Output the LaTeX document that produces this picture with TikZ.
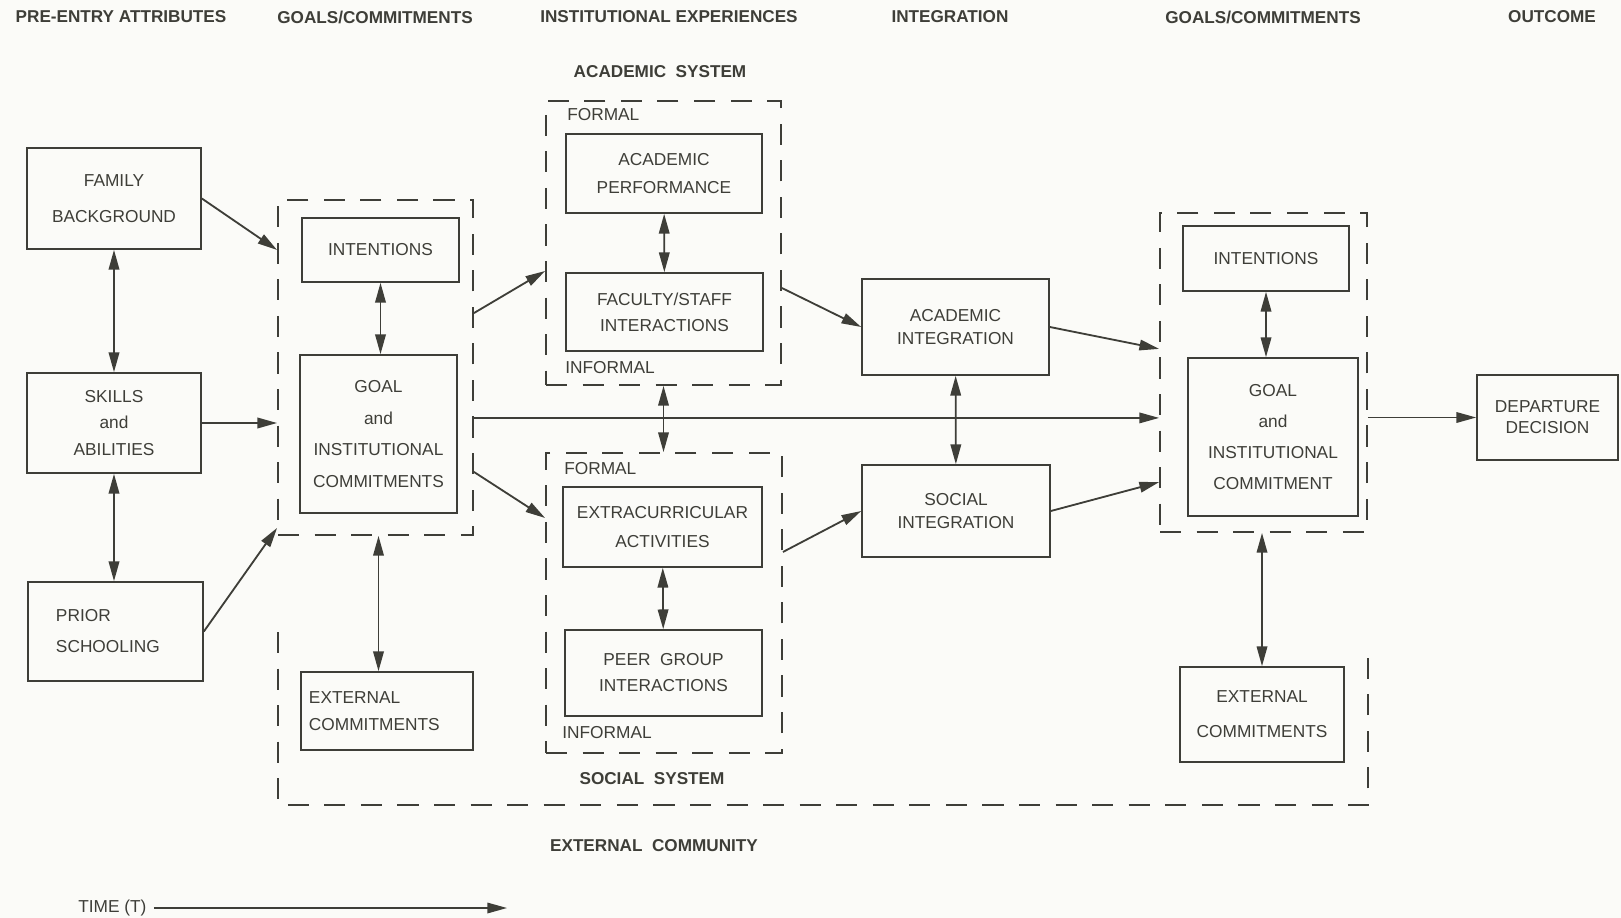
\documentclass[tikz,border=0pt]{standalone}
\usepackage{fontspec}
\setmainfont{Liberation Sans}
\usetikzlibrary{arrows.meta}
\definecolor{ink}{RGB}{62,62,56}
\definecolor{paper}{RGB}{251,251,248}

\begin{document}
\begin{tikzpicture}[
		x=0.025cm, y=-0.025cm,
		>={Triangle[length=14pt,width=7.5pt]},
		every node/.style={font=\fontsize{12.3}{20}\selectfont, text=ink},
		box/.style 2 args={draw=ink, line width=1.2pt, align=center, inner sep=0,
			minimum width=#1*0.025cm, minimum height=#2*0.025cm},
		dsh/.style={draw=ink, line width=1.3pt, dash pattern=on 15pt off 11pt},
		region/.style 2 args={dsh, inner sep=0,
			minimum width=#1*0.025cm, minimum height=#2*0.025cm},
		ls/.style={font=\fontsize{12.3}{#1}\selectfont},
		head/.style={font=\fontsize{12.2}{14}\selectfont\bfseries},
		lab/.style={anchor=west, inner sep=0},
		arr/.style={draw=ink, line width=1.3pt, ->},
		dbl/.style={draw=ink, line width=1.2pt, <->},
	]
	\fill[paper] (0,0) rectangle (1621,918);
	\useasboundingbox (0,0) rectangle (1621,918);

	\node[head] (h1) at (121,17) {PRE-ENTRY ATTRIBUTES};
	\node[head] (h2) at (375,17) {GOALS/COMMITMENTS};
	\node[head] (h3) at (669,17) {INSTITUTIONAL EXPERIENCES};
	\node[head] (h4) at (950,17) {INTEGRATION};
	\node[head] (h5) at (1263,17) {GOALS/COMMITMENTS};
	\node[head] (h6) at (1552,17) {OUTCOME};

	\node[box={174}{101}, ls=26] (famb) at (114,198.5) {FAMILY\\BACKGROUND};
	\node[box={174}{100}, ls=19] (skill) at (114,423) {SKILLS\\and\\ABILITIES};
	\node[box={175}{99}, ls=22, align=left, text width=2.975cm] (prior) at (115.5,631.5) {PRIOR\\SCHOOLING};

	\node[region={195}{335}] (goalsL) at (375.5,367.5) {};
	\node[box={157}{64}] (intentL) at (380.5,250) {INTENTIONS};
	\node[box={157}{158}, ls=22.5] (goalL) at (378.5,434) {GOAL\\and\\INSTITUTIONAL\\COMMITMENTS};
	\node[box={172}{78}, ls=19, align=left, text width=3.9cm] (extL) at (387,711) {EXTERNAL\\COMMITMENTS};

	\node[head] (acsys) at (660,72) {ACADEMIC\ \ SYSTEM};
	\node[region={235}{284}] (acad) at (663.5,243) {};
	\node[lab] (afor) at (567,115) {FORMAL};
	\node[box={196}{79}, ls=20.5] (acperf) at (664,173.5) {ACADEMIC\\PERFORMANCE};
	\node[box={197}{78}, ls=18.5] (faculty) at (664.5,312) {FACULTY/STAFF\\INTERACTIONS};
	\node[lab] (ainf) at (565,368) {INFORMAL};

	\node[region={236}{300}] (social) at (664,603) {};
	\node[lab] (sfor) at (564,469) {FORMAL};
	\node[box={199}{80}, ls=20] (extra) at (662.5,527) {EXTRACURRICULAR\\ACTIVITIES};
	\node[box={197}{86}, ls=18.5] (peer) at (663.5,673) {PEER\ \ GROUP\\INTERACTIONS};
	\node[lab] (sinf) at (562,733) {INFORMAL};
	\node[head] (socsys) at (652,779) {SOCIAL\ \ SYSTEM};

	\node[box={187}{96}, ls=16.5] (acint) at (955.5,327) {ACADEMIC\\INTEGRATION};
	\node[box={188}{92}, ls=16.5] (soint) at (956,511) {SOCIAL\\INTEGRATION};

	\node[region={207}{319}] (goalsR) at (1263.5,372.5) {};
	\node[box={166}{65}] (intentR) at (1266,258.5) {INTENTIONS};
	\node[box={170}{158}, ls=22] (goalR) at (1273,437) {GOAL\\and\\INSTITUTIONAL\\COMMITMENT};
	\node[box={164}{95}, ls=25] (extR) at (1262,714.5) {EXTERNAL\\COMMITMENTS};
	\node[box={141}{85}, ls=15] (depart) at (1547.5,417.5) {DEPARTURE\\DECISION};

	\draw[dsh] (278,632) -- (278,805) -- (1368,805) -- (1368,653);
	\node[head] (extcom) at (654,846) {EXTERNAL\ \ COMMUNITY};

	\node[lab] (time) at (78,908) {TIME (T)};
	\coordinate (timeend) at (507,910);

	\draw[arr] (famb.east) -- (goalsL.west |- intentL);
	\draw[arr] (skill) -- (goalsL.west |- skill);
	\draw[arr] (prior.east) -- ([yshift=0.2cm]goalsL.south west);
	\draw[dbl] (famb) -- (skill);
	\draw[dbl] (skill.south) -- (skill.south |- prior.north);
	\draw[dbl] (intentL.south) -- (intentL.south |- goalL.north);
	\draw[dbl] (goalsL.south -| goalL) -- (goalL |- extL.north);
	\draw[arr] ([yshift=1.36cm]goalsL.east) -- ([yshift=-0.7cm]acad.west);
	\draw[arr] ([yshift=-2.61cm]goalsL.east) -- ([yshift=2.125cm]social.west);
	\coordinate (mid) at ([yshift=-1.26cm]goalsL.east);
	\draw[arr, line width=1.1pt] (mid) -- (mid -| goalsR.west);
	\draw[dbl] (acad.south) -- (acad.south |- social.north);
	\draw[dbl] (acperf) -- (faculty);
	\draw[dbl] (extra) -- (peer);
	\draw[arr] ([yshift=-1.125cm]acad.east) -- (acint.west);
	\draw[arr] ([yshift=1.275cm]social.east) -- (soint.west);
	\draw[dbl] (acint) -- (soint);
	\draw[arr] (acint.east) -- ([yshift=0.59cm]goalsR.west);
	\draw[arr] (soint.east) -- ([yshift=-2.74cm]goalsR.west);
	\draw[dbl] (intentR.south) -- (intentR.south |- goalR.north);
	\draw[dbl] (extR.north |- goalsR.south) -- (extR.north);
	\draw[arr, line width=1.1pt] (goalsR.east |- depart) -- (depart.west);
	\draw[arr, line width=1.1pt, shorten <=5pt] (time.east) -- (time.east -| timeend);
\end{tikzpicture}
\end{document}
